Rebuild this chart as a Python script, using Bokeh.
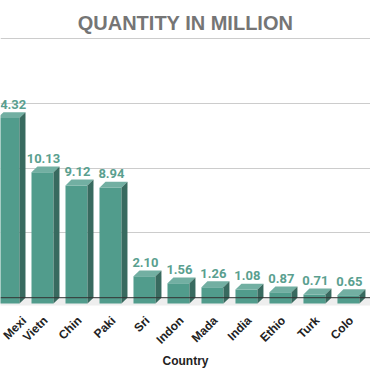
from bokeh.plotting import figure
from bokeh.models import ColumnDataSource, FixedTicker, Span, Label
from bokeh.embed import file_html
from bokeh.resources import INLINE
from bokeh.core.properties import value
import math

countries = ["Mexi", "Vietn", "Chin", "Paki", "Sri", "Indon", "Mada", "India",
             "Ethio", "Turk", "Colo", "Japa"]
quantities = [14.32, 10.13, 9.12, 8.94, 2.10, 1.56, 1.26, 1.08, 0.87, 0.71, 0.65, 0.55]
value_labels = ["14.32", "10.13", "9.12", "8.94", "2.10", "1.56", "1.26", "1.08",
                "0.87", "0.71", "0.65", "0.55"]
grid_ticks = [5, 10, 15, 20]

# 3D geometry (data units)
W = 0.647   # front face width
L0 = -0.412 # front face left offset from category centre
DX = 0.176  # depth, x
DY = 0.455  # depth, y

idx = list(range(len(countries)))
front_l = [i + L0 for i in idx]
front_r = [i + L0 + W for i in idx]
front_b = [-DY for _ in idx]
front_t = [q - DY for q in quantities]

top_xs, top_ys, side_xs, side_ys = [], [], [], []
for i, q in zip(idx, quantities):
    l = i + L0
    r = l + W
    top_xs.append([l, r, r + DX, l + DX])
    top_ys.append([q - DY, q - DY, q, q])
    side_xs.append([r, r + DX, r + DX, r])
    side_ys.append([-DY, 0, q, q - DY])

Y0 = -0.68
p = figure(width=370, height=371, output_backend="svg", toolbar_location=None,
           x_range=(-0.324, 10.56), y_range=(Y0, 20.08),
           min_border_left=0, min_border_right=0, min_border_bottom=60,
           min_border_top=37,
           title="QUANTITY IN MILLION")
p.outline_line_color = None
p.background_fill_color = "white"
p.border_fill_color = "white"

p.title.align = "center"
p.title.text_font = "Liberation Sans"
p.title.text_font_size = "20px"
p.title.text_color = "#757575"
p.title.text_font_style = "bold"
p.title.standoff = 7

p.yaxis.visible = False
p.xgrid.visible = False
p.ygrid.ticker = FixedTicker(ticks=grid_ticks)
p.ygrid.grid_line_color = "#cccccc"
p.ygrid.grid_line_width = 1

# floor
p.quad(left=[-1], right=[12], bottom=[-0.6], top=[0], fill_color="#eeeeee", line_color=None)
p.add_layout(Span(location=0, dimension="width", line_color="#333333", line_width=1))

p.quad(left=front_l, right=front_r, bottom=front_b, top=front_t,
       fill_color="#519c8c", line_color=None)
p.patches(top_xs, top_ys, fill_color="#72afa2", line_color=None)
p.patches(side_xs, side_ys, fill_color="#386a5f", line_color=None)

src = ColumnDataSource(dict(x=[i - 0.06 for i in idx], y=quantities, t=value_labels))
p.text(x="x", y="y", text="t", source=src, text_align="center", text_baseline="alphabetic",
       y_offset=-8, text_font=value("Roboto"), text_font_style="bold",
       text_font_size="13px", text_color="#5a9f8f")

p.xaxis.ticker = FixedTicker(ticks=idx)
p.xaxis.major_label_overrides = {i: c for i, c in zip(idx, countries)}
p.xaxis.major_label_orientation = math.pi / 4
p.xaxis.major_label_text_font = "Liberation Sans"
p.xaxis.major_label_text_font_style = "bold"
p.xaxis.major_label_text_font_size = "12px"
p.xaxis.major_label_text_color = "#222222"
p.xaxis.axis_line_color = None
p.xaxis.major_tick_line_color = None
p.xaxis.minor_tick_line_color = None
p.xaxis.major_tick_out = 0
p.xaxis.major_label_standoff = 12
p.xaxis.axis_label = "Country"
p.xaxis.axis_label_text_font = "Liberation Sans"
p.xaxis.axis_label_text_font_style = "bold"
p.xaxis.axis_label_text_font_size = "12px"
p.xaxis.axis_label_text_color = "#222222"
p.xaxis.axis_label_standoff = 0

# last category label, beyond the visible range (partly cut at the right edge)
p.add_layout(Label(x=idx[-1], y=Y0, text=countries[-1], x_units="data", y_units="data",
                   angle=math.pi / 4, text_align="right", text_baseline="middle",
                   x_offset=2, y_offset=-13, text_font="Liberation Sans",
                   text_font_style="bold", text_font_size="12px", text_color="#222222"))

open("out.html", "w").write(file_html(p, INLINE))
